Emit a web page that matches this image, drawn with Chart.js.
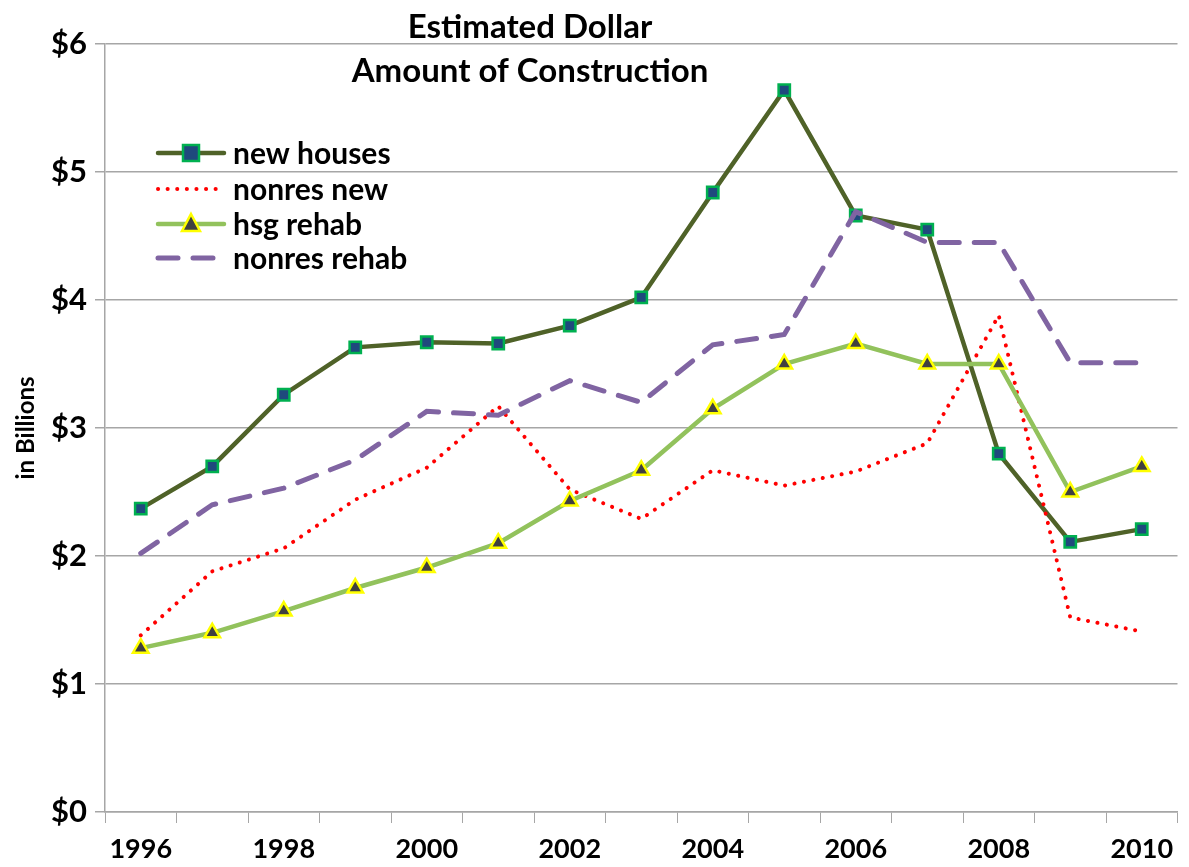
<!DOCTYPE html>
<html>
<head>
<meta charset="utf-8">
<script src="https://cdn.jsdelivr.net/npm/chart.js@4"></script>
<style>
  html, body { margin: 0; padding: 0; background: #fff; }
  #wrap { width: 1189px; height: 867px; }
</style>
</head>
<body>
<div id="wrap"><canvas id="chart" width="1189" height="867"></canvas></div>
<script>
const years = ["1996","1997","1998","1999","2000","2001","2002","2003","2004","2005","2006","2007","2008","2009","2010"];
const newHouses   = [2.37, 2.70, 3.26, 3.63, 3.67, 3.66, 3.80, 4.02, 4.84, 5.64, 4.66, 4.55, 2.80, 2.11, 2.21];
const nonresNew   = [1.38, 1.88, 2.06, 2.44, 2.69, 3.17, 2.52, 2.29, 2.67, 2.55, 2.66, 2.88, 3.88, 1.52, 1.41];
const hsgRehab    = [1.28, 1.40, 1.57, 1.75, 1.91, 2.10, 2.43, 2.67, 3.15, 3.50, 3.66, 3.50, 3.50, 2.50, 2.70];
const nonresRehab = [2.02, 2.40, 2.53, 2.75, 3.13, 3.10, 3.37, 3.20, 3.65, 3.73, 4.69, 4.45, 4.45, 3.51, 3.51];
const titleLines = ["Estimated Dollar", "Amount of Construction"];

const FONT = "Lato, 'Open Sans', sans-serif";

const datasets = [
  {
    label: "new houses", data: newHouses, order: 4,
    borderColor: "#4F6228", borderWidth: 4.5,
    pointStyle: "rect", pointRadius: 8, pointBackgroundColor: "#1F497D",
    pointBorderColor: "#00B050", pointBorderWidth: 2.5
  },
  {
    label: "nonres new", data: nonresNew, order: 3,
    borderColor: "#FF0000", borderWidth: 4, borderDash: [0.1, 9.5], borderCapStyle: "round",
    pointRadius: 0
  },
  {
    label: "hsg rehab", data: hsgRehab, order: 2,
    borderColor: "#92C25C", borderWidth: 4.5,
    pointStyle: "triangle", pointRadius: 9, pointBackgroundColor: "#404040",
    pointBorderColor: "#FFFF00", pointBorderWidth: 2.5
  },
  {
    label: "nonres rehab", data: nonresRehab, order: 1,
    borderColor: "#8064A2", borderWidth: 5, borderDash: [20, 15], borderCapStyle: "round",
    pointRadius: 0
  }
];

/* ---------- title + in-plot legend ---------- */
const overlay = {
  id: "overlay",
  afterDraw(chart) {
    const c = chart.ctx;
    c.save();
    c.fillStyle = "#000";
    c.textAlign = "center";
    c.textBaseline = "middle";
    c.font = "bold 33px " + FONT;
    c.fillText(titleLines[0], 530, 27);
    c.fillText(titleLines[1], 530, 71);

    c.textAlign = "left";
    c.font = "bold 30px " + FONT;
    const rows = [153, 189, 224, 258];
    datasets.forEach((ds, i) => {
      const y = rows[i];
      c.strokeStyle = ds.borderColor;
      c.lineWidth = ds.borderWidth;
      c.lineCap = ds.borderCapStyle || "round";
      c.setLineDash(ds.borderDash || []);
      c.beginPath();
      c.moveTo(158, y);
      c.lineTo(224, y);
      c.stroke();
      c.setLineDash([]);
      if (ds.pointRadius) {
        c.fillStyle = ds.pointBackgroundColor;
        c.strokeStyle = ds.pointBorderColor;
        c.lineWidth = ds.pointBorderWidth;
        c.beginPath();
        if (ds.pointStyle === "rect") {
          c.rect(183, y - 8, 16, 16);
        } else {
          c.moveTo(191, y - 10);
          c.lineTo(200, y + 7);
          c.lineTo(182, y + 7);
          c.closePath();
        }
        c.fill();
        c.stroke();
      }
      c.fillStyle = "#000";
      c.fillText(ds.label, 233, y + 1);
    });
    c.restore();
  }
};

new Chart(document.getElementById("chart"), {
  type: "line",
  data: { labels: years, datasets: datasets },
  options: {
    responsive: false,
    animation: false,
    layout: { padding: { top: 44, right: 4, left: 12, bottom: 0 } },
    plugins: { legend: { display: false }, tooltip: { enabled: false } },
    elements: { line: { tension: 0 } },
    scales: {
      x: {
        type: "category",
        offset: true,
        grid: { offset: true, drawOnChartArea: false, color: "#A6A6A6", tickLength: 11 },
        border: { color: "#A6A6A6", width: 1.5 },
        ticks: {
          autoSkip: false, maxRotation: 0, color: "#000", padding: 10,
          font: { family: FONT, size: 27, weight: "bold" },
          callback: function (v, i) { return i % 2 === 0 ? this.getLabelForValue(v) : ""; }
        },
        afterFit(scale) { scale.height = 55; }
      },
      y: {
        min: 0, max: 6,
        grid: { color: "#A6A6A6", lineWidth: 1.5, tickLength: 10 },
        border: { color: "#A6A6A6", width: 1.5 },
        ticks: {
          stepSize: 1, color: "#000", padding: 8,
          font: { family: FONT, size: 31, weight: "bold" },
          callback: v => "$" + v
        },
        title: {
          display: true, text: "in Billions", color: "#000",
          font: { family: FONT, size: 24, weight: "bold" }, padding: 0
        },
        afterFit(scale) { scale.width = 93; }
      }
    }
  },
  plugins: [overlay]
});
</script>
</body>
</html>
